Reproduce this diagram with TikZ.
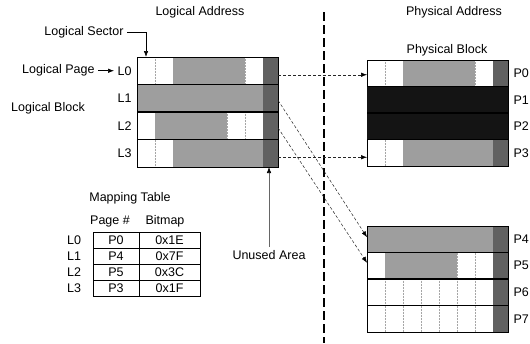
\documentclass[tikz,border=0pt]{standalone}
\usepackage{fontspec}
\setmainfont{Liberation Sans}
\usetikzlibrary{positioning, arrows.meta}

% one page row: name, x, y (top), height, sector flags (0 free, 1 valid)
\newcommand{\pagerow}[5]{%
  \foreach \k in {1,...,6}
    \draw[divider] (#2+18*\k, #3) -- ++(0, #4);
  \foreach \f [count=\k from 0] in {#5} {
    \ifnum\f=1
      \fill[valid] (#2+18*\k, #3) rectangle ++(18, #4);
    \fi
  }
  \fill[unused] (#2+126, #3) rectangle ++(15, #4);
  \node[pagebox, minimum height=#4pt] (#1) at (#2, #3) {};
}

\begin{document}
\begin{tikzpicture}[
    x=1pt, y=-1pt,
    font=\fontsize{12.5}{14}\selectfont,
    valid/.style   = {fill=black!38},
    dead/.style    = {fill=black!92},
    unused/.style  = {fill=black!62},
    divider/.style = {black!35, densely dotted, line width=0.5pt},
    pagebox/.style = {draw=black, line width=0.6pt, minimum width=141pt,
                      inner sep=0pt, outer sep=0pt, anchor=north west},
    rowline/.style = {line width=1.2pt},
    cell/.style    = {draw=black, line width=0.8pt},
    pointer/.style = {line width=0.6pt, -{Latex[length=6pt, width=4.5pt]}},
    link/.style    = {black!85, line width=0.5pt, dash pattern=on 3pt off 2pt,
                      -{Latex[length=6pt, width=4.5pt, black]}},
    separator/.style = {line width=2pt, dash pattern=on 9pt off 4pt},
  ]
  \useasboundingbox (0,0) rectangle (530,343);

  %% ---------- logical side ----------
  \node (laddr) at (200,12) {Logical Address};

  \pagerow{L0}{137}{57}{27.5}{0,0,1,1,1,1,0}
  \pagerow{L1}{137}{84.5}{27.5}{1,1,1,1,1,1,1}
  \pagerow{L2}{137}{112}{27.5}{0,1,1,1,1,0,0}
  \pagerow{L3}{137}{139.5}{27.5}{0,0,1,1,1,1,1}

  \foreach \r in {0,...,3}
    \node[left=2pt of L\r] (L\r lbl) {L\r};

  \node (lsec) at (84,32) {Logical Sector};
  \draw[pointer] (lsec.east) -| ([xshift=9pt]L0.north west);

  \node[left=16pt of L0lbl] (lpage) {Logical Page};
  \draw[pointer] (lpage) -- (L0lbl);

  \node (lblock) at (48,108) {Logical Block};

  \node (unused) at (269,255) {Unused Area};
  \draw[pointer, draw=black!60, -{Latex[length=6pt, width=4.5pt, black]}]
    (unused.north) -- (unused.north |- L3.south);

  %% ---------- mapping table ----------
  \node (maptitle) at (130,198) {Mapping Table};
  \node (hpage) at (110,221) {Page \#};
  \node (hbits) at (165,221) {Bitmap};
  \foreach \r/\pg/\bm in {0/P0/0x1E, 1/P4/0x7F, 2/P5/0x3C, 3/P3/0x1F} {
    \draw[cell] (93, 232+16*\r) rectangle ++(46,16) node[midway] (pg\r) {\pg};
    \draw[cell] (139, 232+16*\r) rectangle ++(61,16) node[midway] (bm\r) {\bm};
    \node[anchor=west, inner sep=0pt] (map\r) at (67, 240+16*\r) {L\r};
  }

  %% ---------- separator ----------
  \coordinate (septop) at (324,12);
  \coordinate (sepbot) at (324,343);
  \draw[separator] (septop) -- (sepbot);

  %% ---------- physical side ----------
  \node (paddr) at (454,12) {Physical Address};
  \node (pblock) at (447,50) {Physical Block};

  \pagerow{P0}{367}{60}{26.5}{0,0,1,1,1,1,0}
  \pagerow{P1}{367}{86.5}{26.5}{0,0,0,0,0,0,0}
  \pagerow{P2}{367}{113}{26.5}{0,0,0,0,0,0,0}
  \pagerow{P3}{367}{139.5}{26.5}{0,0,1,1,1,1,1}
  \fill[dead] (P1.north west) rectangle (P2.south east);

  \pagerow{P4}{367}{226}{26.5}{1,1,1,1,1,1,1}
  \pagerow{P5}{367}{252.5}{26.5}{0,1,1,1,1,0,0}
  \pagerow{P6}{367}{279}{26.5}{0,0,0,0,0,0,0}
  \pagerow{P7}{367}{305.5}{26.5}{0,0,0,0,0,0,0}

  \foreach \r in {0,...,7}
    \node[right=2pt of P\r] (P\r lbl) {P\r};

  % thick lines between pages
  \foreach \r in {L0,L1,L2,P0,P1,P2,P4,P5,P6}
    \draw[rowline] (\r.south west) -- (\r.south east);

  %% ---------- mapping arrows ----------
  \draw[link] ([yshift=-4pt]L0.east) -- ([yshift=-4pt]L0.east -| P0.west);
  \draw[link] ([yshift=-4pt]L3.east) -- ([yshift=-4pt]L3.east -| P3.west);
  \draw[link] ([yshift=-2pt]L1.east) -- ([yshift=2pt]P4.west);
  \draw[link] ([yshift=-2pt]L2.east) -- ([yshift=3pt]P5.west);
\end{tikzpicture}
\end{document}
